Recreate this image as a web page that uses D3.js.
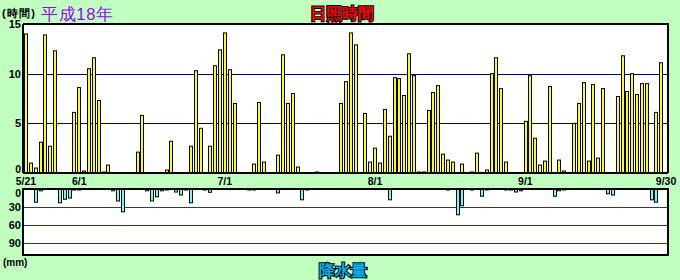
<!DOCTYPE html>
<html><head><meta charset="utf-8">
<script src="https://cdn.jsdelivr.net/npm/d3@7"></script>
<style>
html,body{margin:0;padding:0;background:#C0FFC0;}
svg{display:block;}
text{font-family:"Liberation Sans",Arial,sans-serif;}
</style></head>
<body><svg id="c" width="680" height="280"></svg>
<script>
// ---- data ----
const startDate = new Date(2006, 4, 21);
const endDate = new Date(2006, 9, 1);
const dayLabels = ["5/21", "6/1", "7/1", "8/1", "9/1", "9/30"];
const dayLabelIndex = [0, 11, 41, 72, 103, 132];
// sunshine hours per day, 5/21 .. 9/30
const sunshine = [
 14.0,1.0,0.5,3.1,13.9,2.7,12.3,0,0,0,
 6.1,8.6,0.2,10.5,11.6,7.3,0.1,0.8,0,0,
 0,0,0,2.1,5.8,0,0,0,0,0.3,
 3.2,0,0,0,2.7,10.3,4.5,0,2.7,10.8,
 12.4,14.1,10.4,7.0,0,0,0,0.9,7.1,1.1,
 0,0,1.8,11.9,7.0,8.0,0.6,0,0,0,
 0.1,0,0,0,0,7.0,9.2,14.1,12.9,0,
 6.0,1.1,2.5,1.0,6.4,3.7,9.6,9.5,7.8,12.0,
 9.8,0.1,0.1,6.3,8.1,8.8,1.9,1.3,1.1,0,
 0.9,0,0.1,2.0,0,0.3,10.0,11.6,8.5,1.1,
 0,0,0,5.2,9.8,3.5,0.8,1.2,8.7,0,
 1.3,0.2,0,5.0,7.0,9.1,1.2,8.9,1.5,8.5,
 0,0,7.7,11.8,8.2,10.0,7.9,9.0,9.0,0,
 6.1,11.1,0
];
// precipitation (mm) per day, 5/21 .. 9/30
const rain = [
 0,0,22,3,0,0,0,23,17,15,
 1,1,0,0,0,0,0,0,3,20,
 38,0,0,0,0,3,20,13,3,1.5,
 0,5,10,1.5,23,0,0,1,5.5,0,
 0,0,0,0,0,0,0.5,0.5,0,0,
 0,0,6.5,0,0,0,0,18,1,0,
 0,0,0,0,0,0,0,0,0,0,
 0,0,0,0,0,18,0,0,0,0,
 0,0,0,0,0,0,0,1,0,43,
 28,0,0.5,0,12,1,0,0,0,1,
 1,5,3,0,0,0,0,0,0,12,
 3,1,0,0,0,0,0,0,0,0,
 8,10,0,0,0,0,0,0,0,18,
 22,0,0
];
const sunTicks = [0, 5, 10, 15];
const rainTicks = [0, 30, 60, 90];

// ---- drawing ----
const svg = d3.select("#c");
const dates = d3.timeDay.range(startDate, endDate);
const L = 23.3, R = 668.3;
const x = d3.scaleBand().domain(d3.range(dates.length)).range([L, R]).padding(0);
const yS = d3.scaleLinear().domain([0, 15]).range([173, 24]);
const yR = d3.scaleLinear().domain([0, 110]).range([189, 255]);

// plot backgrounds
svg.append("rect").attr("x", 23).attr("y", 24).attr("width", 645).attr("height", 149).attr("fill", "#fff");
svg.append("rect").attr("x", 23).attr("y", 189).attr("width", 645).attr("height", 66).attr("fill", "#fff");

// grid lines
svg.append("g").selectAll("line").data([5, 10]).join("line")
  .attr("x1", 23).attr("x2", 668)
  .attr("y1", d => Math.round(yS(d)) + 0.5).attr("y2", d => Math.round(yS(d)) + 0.5)
  .attr("stroke", "#000080").attr("stroke-width", 1);
svg.append("g").selectAll("line").data([30, 60, 90]).join("line")
  .attr("x1", 23).attr("x2", 668)
  .attr("y1", d => Math.round(yR(d)) + 0.5).attr("y2", d => Math.round(yR(d)) + 0.5)
  .attr("stroke", "#2A2AB8").attr("stroke-width", 1);

// sunshine bars
const bx = i => Math.round(x(i) + 0.7) + 0.5;
svg.append("g").selectAll("rect").data(sunshine.map((v, i) => ({v, i})).filter(d => d.v > 0)).join("rect")
  .attr("x", d => bx(d.i)).attr("width", 3)
  .attr("y", d => yS(d.v)).attr("height", d => yS(0) - yS(d.v))
  .attr("fill", "#FFFF00").attr("stroke", "#000").attr("stroke-width", 1);

// rain bars
svg.append("g").selectAll("rect").data(rain.map((v, i) => ({v, i})).filter(d => d.v > 0)).join("rect")
  .attr("x", d => bx(d.i)).attr("width", 3)
  .attr("y", yR(0)).attr("height", d => Math.max(1, yR(d.v) - yR(0)))
  .attr("fill", "#66FFFF").attr("stroke", "#000").attr("stroke-width", 1);

// frames
svg.append("path").attr("d", "M23,24H668V173").attr("fill", "none").attr("stroke", "#000").attr("stroke-width", 2);
svg.append("line").attr("x1", 23).attr("x2", 668).attr("y1", 173).attr("y2", 173).attr("stroke", "#000").attr("stroke-width", 2);
svg.append("line").attr("x1", 23).attr("x2", 23).attr("y1", 24).attr("y2", 173).attr("stroke", "#000").attr("stroke-width", 2);
svg.append("rect").attr("x", 23).attr("y", 189).attr("width", 645).attr("height", 66)
  .attr("fill", "none").attr("stroke", "#000").attr("stroke-width", 2);

// axes
const axS = d3.axisLeft(yS).tickValues(sunTicks).tickSize(0).tickPadding(0);
const gS = svg.append("g").attr("transform", "translate(21,0)").call(axS);
gS.select(".domain").remove();
gS.selectAll("text").attr("font-size", d => d === 0 ? 10.5 : 11).attr("font-weight", "bold").attr("fill", "#000")
  .attr("font-family", "Liberation Sans, Arial, sans-serif")
  .attr("dy", d => d === 0 ? "-0.6px" : "0.32em");

const axR = d3.axisLeft(yR).tickValues(rainTicks).tickSize(0).tickPadding(0);
const gR = svg.append("g").attr("transform", "translate(21,0)").call(axR);
gR.select(".domain").remove();
gR.selectAll("text").attr("font-size", d => d === 0 ? 10.5 : 11).attr("font-weight", "bold").attr("fill", "#000")
  .attr("font-family", "Liberation Sans, Arial, sans-serif")
  .attr("dy", d => d === 0 ? "7.5px" : "0.32em");

const xPos = d3.scaleOrdinal().domain(dayLabelIndex).range(dayLabelIndex.map(i => x(i) + 2.6));
const axX = d3.axisBottom(d3.scalePoint().domain(dayLabelIndex).range([0, 1]))
  .tickSize(0).tickPadding(0).tickFormat((d, k) => dayLabels[k]);
const gX = svg.append("g").call(axX);
gX.select(".domain").remove();
gX.selectAll(".tick").attr("transform", d => `translate(${xPos(d)},184.5)`);
gX.selectAll("text").attr("font-size", 10.5).attr("font-weight", "bold").attr("fill", "#000")
  .attr("dy", "0").attr("y", 0)
  .attr("font-family", "Liberation Sans, Arial, sans-serif");

// titles
svg.append("text").attr("x", 2).attr("y", 17).attr("font-size", 11).attr("font-weight", "bold")
  .attr("font-family", "Noto Sans CJK JP").attr("textLength", 33).attr("lengthAdjust", "spacing").text("(時間)");
svg.append("text").attr("x", 41).attr("y", 19.5).attr("font-size", 16.5)
  .attr("font-family", "Noto Sans CJK JP").attr("fill", "#9900FF").attr("textLength", 72).attr("lengthAdjust", "spacing").text("平成18年");
svg.append("text").attr("x", 341.5).attr("y", 19).attr("text-anchor", "middle").attr("font-size", 16)
  .attr("font-weight", "bold").attr("font-family", "Noto Sans CJK JP")
  .attr("fill", "#FF0000").attr("stroke", "#000").attr("stroke-width", 2).attr("paint-order", "stroke")
  .text("日照時間");
svg.append("text").attr("x", 343).attr("y", 275.5).attr("text-anchor", "middle").attr("font-size", 16)
  .attr("font-weight", "bold").attr("font-family", "Noto Sans CJK JP")
  .attr("fill", "#00B0F0").attr("stroke", "#000").attr("stroke-width", 2).attr("paint-order", "stroke")
  .text("降水量");
svg.append("text").attr("x", 3).attr("y", 266).attr("font-size", 10).attr("font-weight", "bold")
  .attr("font-family", "Liberation Sans, Arial, sans-serif").text("(mm)");
</script></body></html>
